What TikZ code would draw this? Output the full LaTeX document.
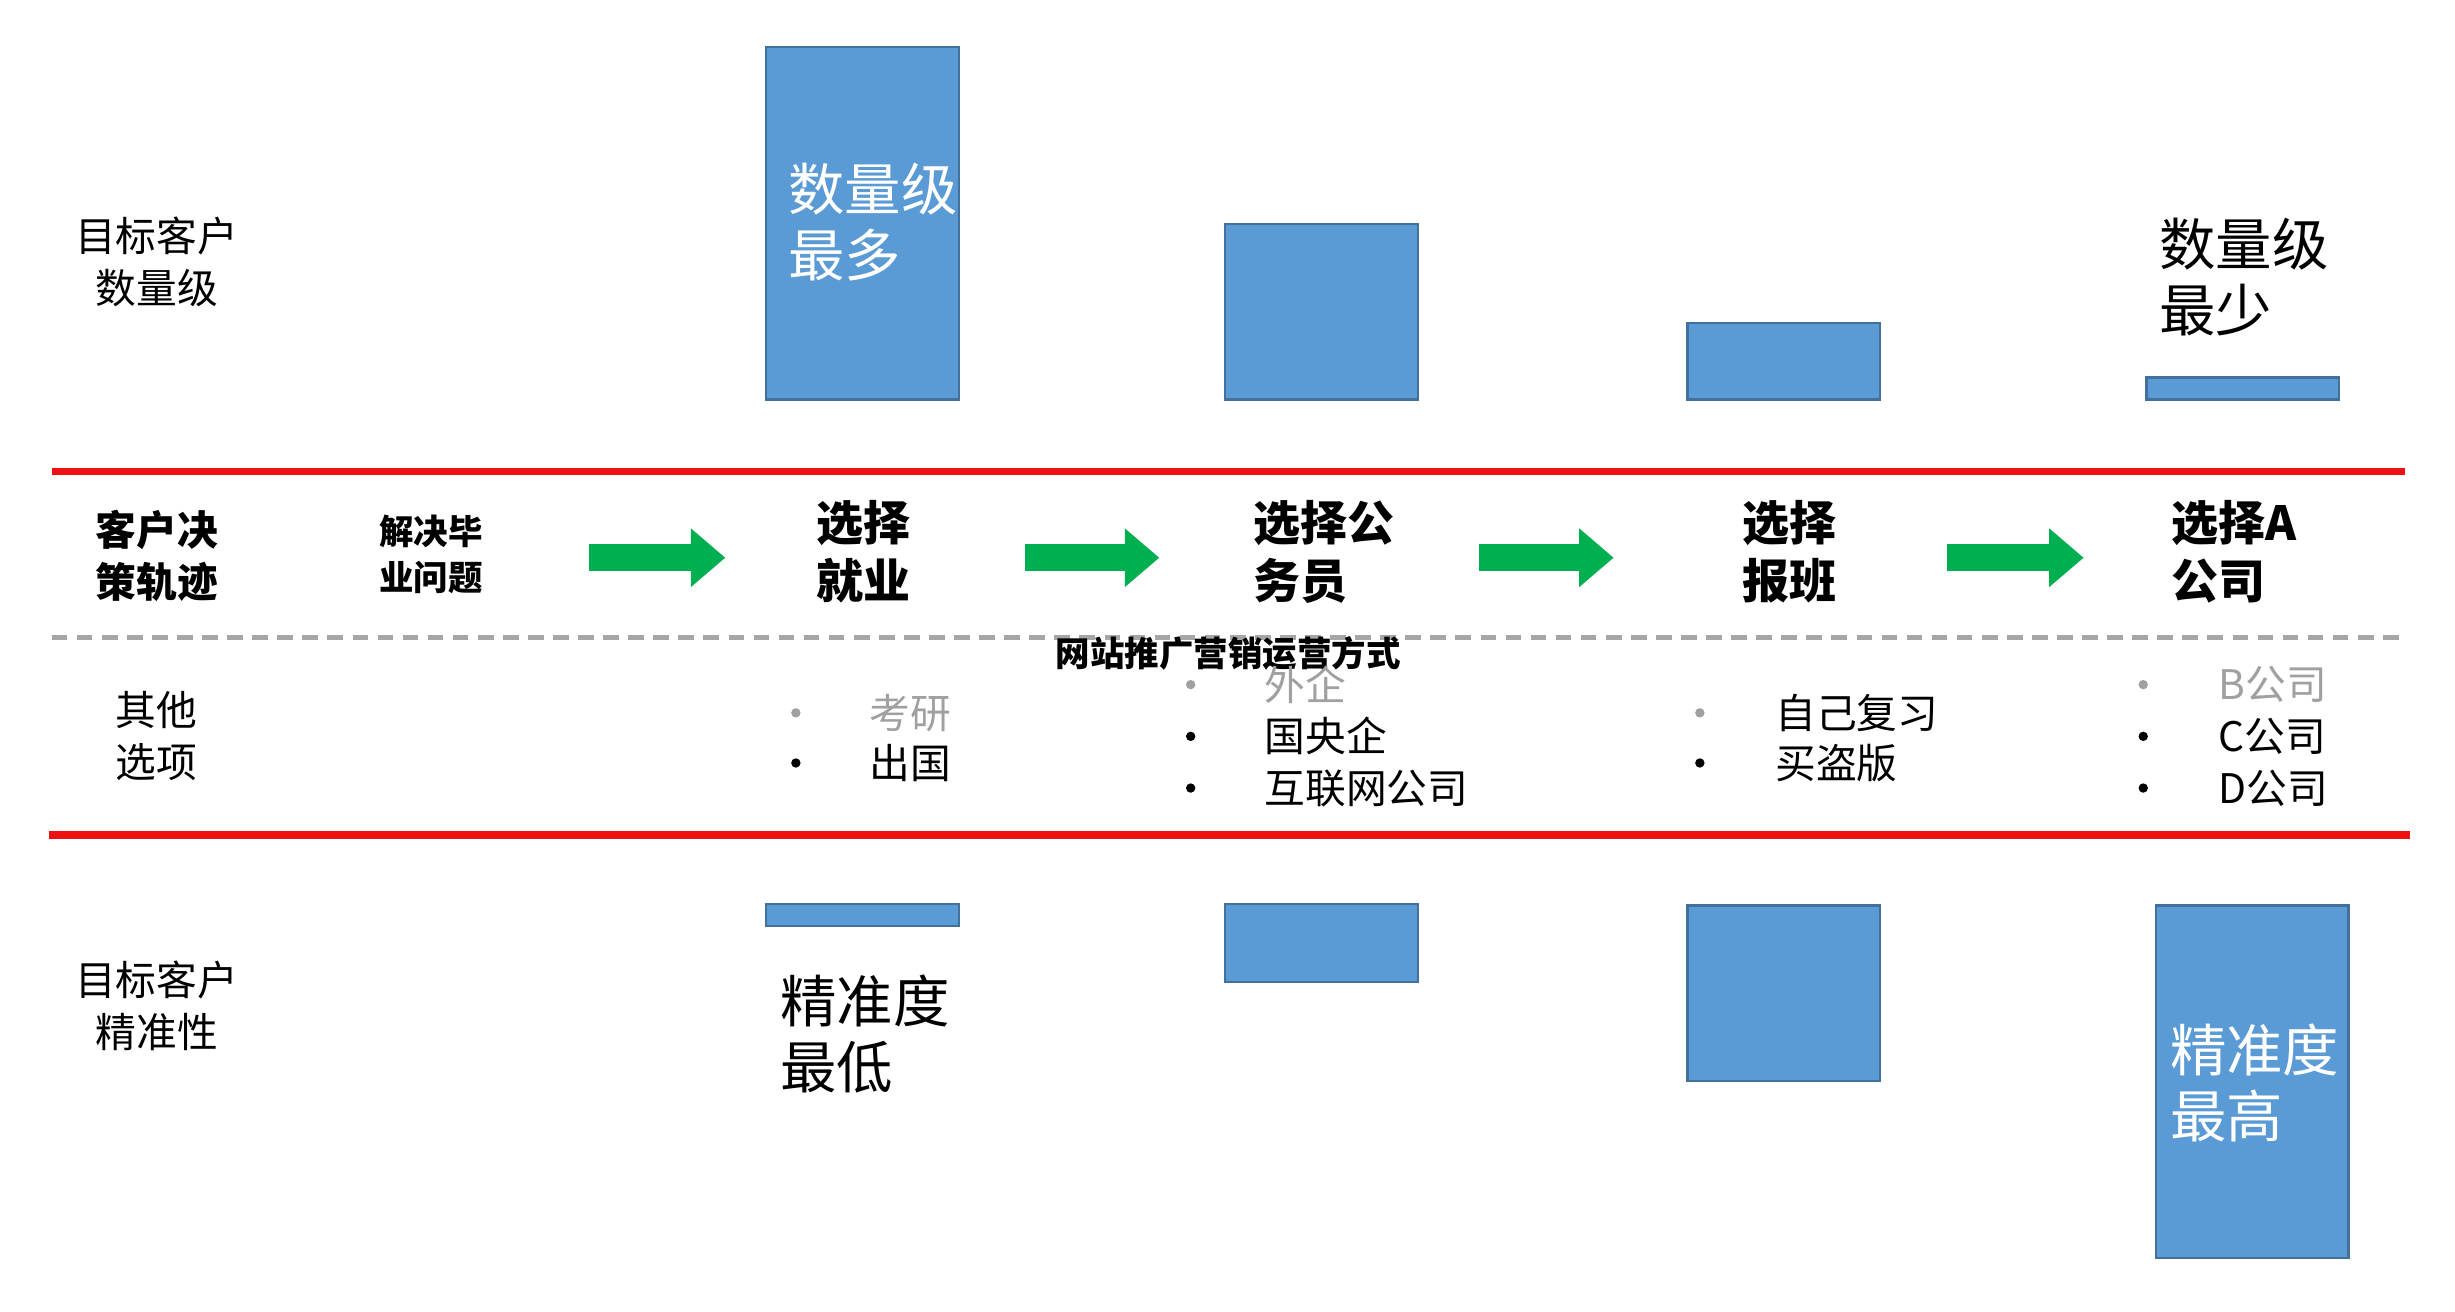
\documentclass[tikz,border=0pt]{standalone}
\usepackage{fontspec}
\setmainfont{Noto Sans CJK SC}
\usetikzlibrary{arrows.meta}
\definecolor{barblue}{HTML}{5B9BD5}
\definecolor{barline}{HTML}{41719C}
\definecolor{gred}{HTML}{EE1111}
\definecolor{ggreen}{HTML}{00B050}
\definecolor{gtxt}{HTML}{A0A0A0}
\begin{document}
\begin{tikzpicture}[x=1pt,y=-1pt,
 bar/.style={draw=barline,line width=1.5pt,fill=barblue},
 lab/.style={align=center,font=\fontsize{26}{33}\selectfont,inner sep=0pt},
 big/.style={align=left,anchor=west,font=\fontsize{36}{42}\selectfont,inner sep=0pt},
 stage/.style={align=left,font=\bfseries\fontsize{30}{37}\selectfont,inner sep=0pt},
 item/.style={anchor=west,font=\fontsize{26}{33}\selectfont,inner sep=0pt},
 dot/.style={circle,fill=black,inner sep=0pt,minimum size=6pt},
 gdot/.style={circle,fill=gtxt,inner sep=0pt,minimum size=6pt},
 garrow/.style={ggreen,line width=17pt,-{Triangle[width=36pt,length=22pt]}},
 redl/.style={gred,line width=5pt}]
\useasboundingbox (0,0) rectangle (1567,837);
% top bars
\node[lab] (t1) at (100,167) {目标客户\\数量级};
\filldraw[bar] (489,30) rectangle (612,255);
\node[big,white] (n1) at (503,142) {数量级\\最多};
\filldraw[bar] (782,143) rectangle (905,255);
\filldraw[bar] (1077,206) rectangle (1200,255);
\filldraw[bar] (1370,241) rectangle (1493,255);
\node[big] (n2) at (1378,177) {数量级\\最少};
% lines
\coordinate (r1a) at (33,301); \coordinate (r1b) at (1535,301);
\draw[redl] (r1a) -- (r1b);
\coordinate (r2a) at (31,533); \coordinate (r2b) at (1538,533);
\draw[redl] (r2a) -- (r2b);
\coordinate (da) at (33,407); \coordinate (db) at (1535,407);
\draw[gray!70,line width=3pt,dash pattern=on 10pt off 6pt] (da) -- (db);
% stages
\node[lab,font=\bfseries\fontsize{26}{33}\selectfont] (s0) at (100,355) {客户决\\策轨迹};
\node[lab,font=\bfseries\fontsize{22}{29}\selectfont] (s1) at (275,354) {解决毕\\业问题};
\node[stage] (s2) at (551,352) {选择\\就业};
\node[stage] (s3) at (845,352) {选择公\\务员};
\node[stage] (s4) at (1142,352) {选择\\报班};
\node[stage] (s5) at (1426,352) {选择A\\公司};
\foreach \a/\b/\i in {376/463/1,654/740/2,944/1030/3,1243/1330/4}{
  \coordinate (as\i) at (\a,356); \coordinate (ae\i) at (\b,356);
  \draw[garrow] (as\i) -- (ae\i);}
\node[font=\bfseries\fontsize{22}{26}\selectfont,inner sep=0pt] (title) at (784,417) {网站推广营销运营方式};
% options
\node[lab] (o0) at (100,470) {其他\\选项};
\node[gdot] (b11) at (508,455) {}; \node[item,gtxt] (i11) at (555,455) {考研};
\node[dot] (b12) at (508,487) {}; \node[item] (i12) at (555,487) {出国};
\node[gdot] (b21) at (760,437) {}; \node[item,gtxt] (i21) at (807,437) {外企};
\node[dot] (b22) at (760,470) {}; \node[item] (i22) at (807,470) {国央企};
\node[dot] (b23) at (760,503) {}; \node[item] (i23) at (807,503) {互联网公司};
\node[gdot] (b31) at (1085,455) {}; \node[item] (i31) at (1133,455) {自己复习};
\node[dot] (b32) at (1085,487) {}; \node[item] (i32) at (1133,487) {买盗版};
\node[gdot] (b41) at (1368,437) {}; \node[item,gtxt] (i41) at (1416,437) {B公司};
\node[dot] (b42) at (1368,470) {}; \node[item] (i42) at (1416,470) {C公司};
\node[dot] (b43) at (1368,503) {}; \node[item] (i43) at (1416,503) {D公司};
% bottom bars
\node[lab] (t2) at (100,642) {目标客户\\精准性};
\filldraw[bar] (489,577) rectangle (612,591);
\filldraw[bar] (782,577) rectangle (905,627);
\filldraw[bar] (1077,578) rectangle (1200,690);
\filldraw[bar] (1376,578) rectangle (1499,803);
\node[big] (n3) at (498,660) {精准度\\最低};
\node[big,white] (n4) at (1385,691) {精准度\\最高};
\end{tikzpicture}
\end{document}
